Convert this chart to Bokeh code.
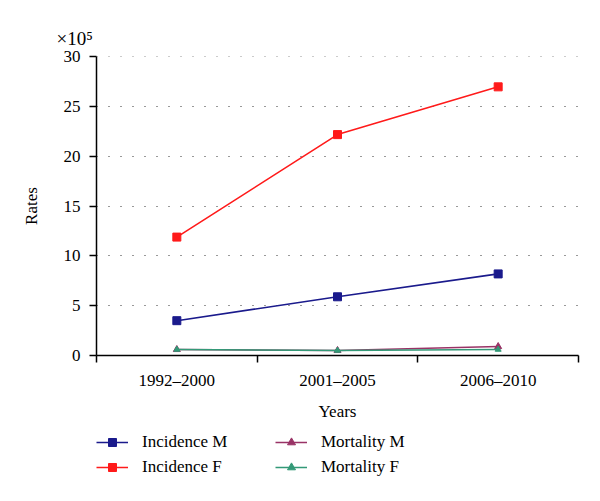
import numpy as np
from bokeh.plotting import figure
from bokeh.layouts import column
from bokeh.models import (FixedTicker, Legend, LegendItem, Range1d, Title)
from bokeh.embed import file_html
from bokeh.resources import INLINE

years = ["1992\u20132000", "2001\u20132005", "2006\u20132010"]
incidence_m = [3.5, 5.9, 8.2]
incidence_f = [11.9, 22.2, 27.0]
mortality_m = [0.6, 0.5, 0.9]
mortality_f = [0.6, 0.5, 0.6]
y_ticks = [0, 5, 10, 15, 20, 25, 30]
series_names = ["Incidence M", "Incidence F", "Mortality M", "Mortality F"]

FONT = "Liberation Serif"
xpos = list(np.arange(len(years)) + 0.5)

p = figure(frame_width=482, frame_height=299, output_backend="svg", toolbar_location=None,
           x_range=Range1d(0, len(years)), y_range=Range1d(0, 30.05),
           min_border_left=96, min_border_right=22, min_border_top=56,
           min_border_bottom=75,
           title=Title(text="\u00d710\u2075", align="left", offset=-40, standoff=15,
                       text_font=FONT, text_font_size="19px",
                       text_font_style="normal", text_color="black"))
p.outline_line_color = None
p.background_fill_color = "white"
p.border_fill_color = "white"

# axes
xa = p.xaxis[0]
xa.ticker = FixedTicker(ticks=xpos, minor_ticks=list(range(len(years) + 1)))
xa.major_label_overrides = {float(x): y for x, y in zip(xpos, years)}
xa.major_tick_line_color = None
xa.minor_tick_in = 0
xa.minor_tick_out = 7
xa.minor_tick_line_width = 1.5
xa.minor_tick_line_color = "black"
xa.axis_line_width = 1.5
xa.axis_line_color = "black"
xa.major_label_text_font = FONT
xa.major_label_text_font_size = "17px"
xa.major_label_text_color = "black"
xa.major_label_standoff = 8
xa.axis_label = "Years"
xa.axis_label_text_font = FONT
xa.axis_label_text_font_size = "17px"
xa.axis_label_text_font_style = "normal"
xa.axis_label_text_color = "black"
xa.axis_label_standoff = 9

ya = p.yaxis[0]
ya.ticker = FixedTicker(ticks=y_ticks)
ya.major_tick_in = 0
ya.major_tick_out = 7
ya.major_tick_line_width = 1.5
ya.minor_tick_line_color = None
ya.axis_line_width = 1.5
ya.axis_line_color = "black"
ya.major_label_text_font = FONT
ya.major_label_text_font_size = "17px"
ya.major_label_text_color = "black"
ya.major_label_standoff = 9
ya.axis_label = "Rates"
ya.axis_label_text_font = FONT
ya.axis_label_text_font_size = "17px"
ya.axis_label_text_font_style = "normal"
ya.axis_label_text_color = "black"
ya.axis_label_standoff = 20

p.xgrid.grid_line_color = None
p.ygrid.ticker = FixedTicker(ticks=y_ticks[1:])
p.ygrid.grid_line_color = "#333333"
p.ygrid.grid_line_dash = "1 11"
p.ygrid.grid_line_width = 1.2

# series
colors = ["#1a1a8c", "#ff1a1a", "#993366", "#339977"]
markers = ["square", "square", "triangle", "triangle"]
sizes = [8, 8, 7, 6]
values = [incidence_m, incidence_f, mortality_m, mortality_f]
for vals, c, mk, sz in zip(values, colors, markers, sizes):
    p.line(xpos, vals, color=c, line_width=1.6)
    p.scatter(xpos, vals, marker=mk, size=sz, color=c)

# legend strip (separate figure; its proxy series lie outside its visible range)
p2 = figure(width=600, height=71, output_backend="svg", toolbar_location=None,
            x_range=Range1d(100, 101), y_range=Range1d(100, 101),
            x_axis_location=None, y_axis_location=None,
            min_border_left=96, min_border_top=2, min_border_right=0,
            min_border_bottom=0)
p2.outline_line_color = None
p2.xgrid.grid_line_color = None
p2.ygrid.grid_line_color = None
items = []
for name, vals, c, mk, sz in zip(series_names, values, colors, markers, sizes):
    lr = p2.line(xpos, vals, color=c, line_width=1.6)
    sr = p2.scatter(xpos, vals, marker=mk, size=sz - 1, color=c)
    items.append(LegendItem(label=name, renderers=[lr, sr]))

legend = Legend(items=items, ncols=2, orientation="vertical", location="top_left")
legend.border_line_color = None
legend.background_fill_alpha = 0
legend.label_text_font = FONT
legend.label_text_font_size = "17px"
legend.label_text_color = "black"
legend.glyph_width = 32
legend.glyph_height = 20
legend.label_standoff = 14
legend.label_width = 128
legend.label_height = 20
legend.spacing = 5
legend.padding = 0
legend.margin = 0
p2.add_layout(legend, "center")

layout = column(p, p2, spacing=0)
open("out.html", "w").write(file_html(layout, INLINE))
